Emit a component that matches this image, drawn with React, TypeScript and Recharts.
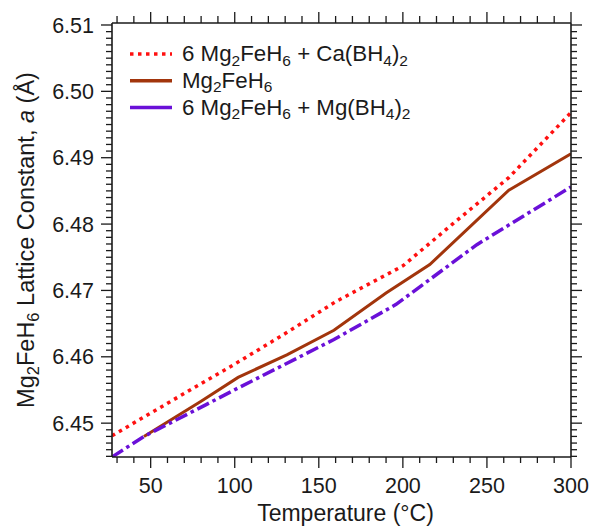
import { LineChart, Line, XAxis, YAxis } from 'recharts';

// temperatures (°C) and lattice constant a (Å)
const tempCa = [27, 60, 100, 130, 160, 200, 230, 263, 300];
const latticeCa = [6.4481, 6.453, 6.4589, 6.4635, 6.4683, 6.4737, 6.4801, 6.487, 6.4968];

const tempPure = [46, 80, 102, 131, 159, 190, 216, 263, 300];
const latticePure = [6.448, 6.4533, 6.4569, 6.4603, 6.464, 6.4696, 6.4739, 6.4851, 6.4906];

const tempMg = [27, 46, 83, 102, 159, 196, 244, 300];
const latticeMg = [6.4449, 6.448, 6.4528, 6.4553, 6.4626, 6.4679, 6.4769, 6.4856];

const xMajor = [50, 100, 150, 200, 250, 300];
const yMajor = [6.45, 6.46, 6.47, 6.48, 6.49, 6.5, 6.51];
const xMinor = Array.from({ length: 28 }, (_, i) => 30 + i * 10);
const yMinor = Array.from({ length: 66 }, (_, i) => +(6.445 + i * 0.001).toFixed(3));

const caData = tempCa.map((t, i) => ({ t, a: latticeCa[i] }));
const pureData = tempPure.map((t, i) => ({ t, a: latticePure[i] }));
const mgData = tempMg.map((t, i) => ({ t, a: latticeMg[i] }));

const font = '"Liberation Sans", Arial, Helvetica, sans-serif';
const RED = '#ff1010';
const BROWN = '#a2350c';
const PURPLE = '#6a10d8';
const INK = '#1a1a1a';

const isMajorY = (v: number) => yMajor.some(m => Math.abs(m - v) < 1e-6);
const isMajorX = (v: number) => xMajor.includes(v);

function LeftTick({ x, y, payload }: any) {
  const major = isMajorY(payload.value);
  return (
    <g>
      <line x1={x - (major ? 11 : 6)} x2={x} y1={y} y2={y} stroke={INK} strokeWidth={1.3} />
      {major && (
        <text x={x - 18} y={y + 7.7} textAnchor="end" fontSize={21.5} fontFamily={font} fill={INK}>
          {payload.value.toFixed(2)}
        </text>
      )}
    </g>
  );
}

function RightTick({ x, y, payload }: any) {
  const major = isMajorY(payload.value);
  return <line x1={x} x2={x + (major ? 11 : 6)} y1={y} y2={y} stroke={INK} strokeWidth={1.3} />;
}

function BottomTick({ x, y, payload }: any) {
  const major = isMajorX(payload.value);
  return (
    <g>
      <line x1={x} x2={x} y1={y} y2={y + (major ? 11 : 6)} stroke={INK} strokeWidth={1.3} />
      {major && (
        <text x={x} y={y + 36} textAnchor="middle" fontSize={21.5} fontFamily={font} fill={INK}>
          {payload.value}
        </text>
      )}
    </g>
  );
}

function TopTick({ x, y, payload }: any) {
  const major = isMajorX(payload.value);
  return <line x1={x} x2={x} y1={y} y2={y - (major ? 11 : 7)} stroke={INK} strokeWidth={1.3} />;
}

function YTitle({ viewBox }: any) {
  const cy = viewBox.y + viewBox.height / 2;
  const bx = 34;
  return (
    <text
      x={bx}
      y={cy}
      transform={`rotate(-90 ${bx} ${cy})`}
      textAnchor="middle"
      fontSize={23.5}
      fontFamily={font}
      fill={INK}
    >
      Mg<tspan dy={5} fontSize={16.5}>2</tspan>
      <tspan dy={-5}>FeH</tspan>
      <tspan dy={5} fontSize={16.5}>6</tspan>
      <tspan dy={-5}> Lattice Constant, </tspan>
      <tspan fontStyle="italic">a</tspan> (Å)
    </text>
  );
}

function XTitle({ viewBox }: any) {
  const cx = viewBox.x + viewBox.width / 2 + 4;
  return (
    <text x={cx} y={viewBox.y + 64} textAnchor="middle" fontSize={23} fontFamily={font} fill={INK}>
      Temperature (°C)
    </text>
  );
}

function Formula({ parts }: { parts: [string, boolean][] }) {
  return (
    <>
      {parts.map(([s, sub], i) => (
        <tspan key={i} dy={sub ? 4.5 : i > 0 && parts[i - 1][1] ? -4.5 : 0} fontSize={sub ? 15.5 : 22.3}>
          {s}
        </tspan>
      ))}
    </>
  );
}

const legendRows: { color: string; dash?: string; width: number; parts: [string, boolean][] }[] = [
  {
    color: RED,
    dash: '3.5 4.5',
    width: 3.5,
    parts: [['6 Mg', false], ['2', true], ['FeH', false], ['6', true], [' + Ca(BH', false], ['4', true], [')', false], ['2', true]],
  },
  { color: BROWN, width: 3.5, parts: [['Mg', false], ['2', true], ['FeH', false], ['6', true]] },
  {
    color: PURPLE,
    width: 3.5,
    parts: [['6 Mg', false], ['2', true], ['FeH', false], ['6', true], [' + Mg(BH', false], ['4', true], [')', false], ['2', true]],
  },
];

function LegendBox() {
  return (
    <svg width={590} height={526} style={{ position: 'absolute', left: 0, top: 0, pointerEvents: 'none' }}>
      {legendRows.map((r, i) => {
        const base = 61 + i * 26.8;
        return (
          <g key={i}>
            <line x1={130} x2={172} y1={base - 7} y2={base - 7} stroke={r.color} strokeWidth={r.width} strokeDasharray={r.dash} />
            <text x={182} y={base} fontFamily={font} fill={INK}>
              <Formula parts={r.parts} />
            </text>
          </g>
        );
      })}
    </svg>
  );
}

export default function App() {
  const xDomain: [number, number] = [27, 300];
  const yDomain: [number, number] = [6.4449, 6.5103];
  return (
    <div style={{ position: 'absolute', left: 0, top: 0, width: 590, height: 526, background: '#fff' }}>
      <LineChart width={590} height={526} margin={{ top: 0, right: 0, bottom: 0, left: 0 }}>
        <XAxis
          dataKey="t"
          type="number"
          domain={xDomain}
          allowDataOverflow
          ticks={xMinor}
          interval={0}
          tickSize={0}
          tickMargin={0}
          tickLine={false}
          tick={<BottomTick />}
          height={69}
          axisLine={{ stroke: INK, strokeWidth: 1.6 }}
          label={<XTitle />}
        />
        <XAxis
          xAxisId="top"
          orientation="top"
          dataKey="t"
          type="number"
          domain={xDomain}
          allowDataOverflow
          ticks={xMinor}
          interval={0}
          tickSize={0}
          tickMargin={0}
          tickLine={false}
          tick={<TopTick />}
          height={23}
          axisLine={{ stroke: INK, strokeWidth: 1.6 }}
        />
        <YAxis
          type="number"
          domain={yDomain}
          allowDataOverflow
          ticks={yMinor}
          interval={0}
          tickSize={0}
          tickMargin={0}
          tickLine={false}
          tick={<LeftTick />}
          width={112}
          axisLine={{ stroke: INK, strokeWidth: 1.6 }}
          label={<YTitle />}
        />
        <YAxis
          yAxisId="right"
          orientation="right"
          type="number"
          domain={yDomain}
          allowDataOverflow
          ticks={yMinor}
          interval={0}
          tickSize={0}
          tickMargin={0}
          tickLine={false}
          tick={<RightTick />}
          width={19}
          axisLine={{ stroke: INK, strokeWidth: 1.6 }}
        />
        <Line
          data={caData}
          dataKey="a"
          type="linear"
          stroke={RED}
          strokeWidth={3.5}
          strokeDasharray="3.5 4.5"
          dot={false}
          isAnimationActive={false}
        />
        <Line
          data={pureData}
          dataKey="a"
          type="linear"
          stroke={BROWN}
          strokeWidth={3}
          dot={false}
          isAnimationActive={false}
        />
        <Line
          data={mgData}
          dataKey="a"
          type="linear"
          stroke={PURPLE}
          strokeWidth={3.5}
          strokeDasharray="13 4 3.5 4"
          dot={false}
          isAnimationActive={false}
        />
      </LineChart>
      <LegendBox />
    </div>
  );
}
